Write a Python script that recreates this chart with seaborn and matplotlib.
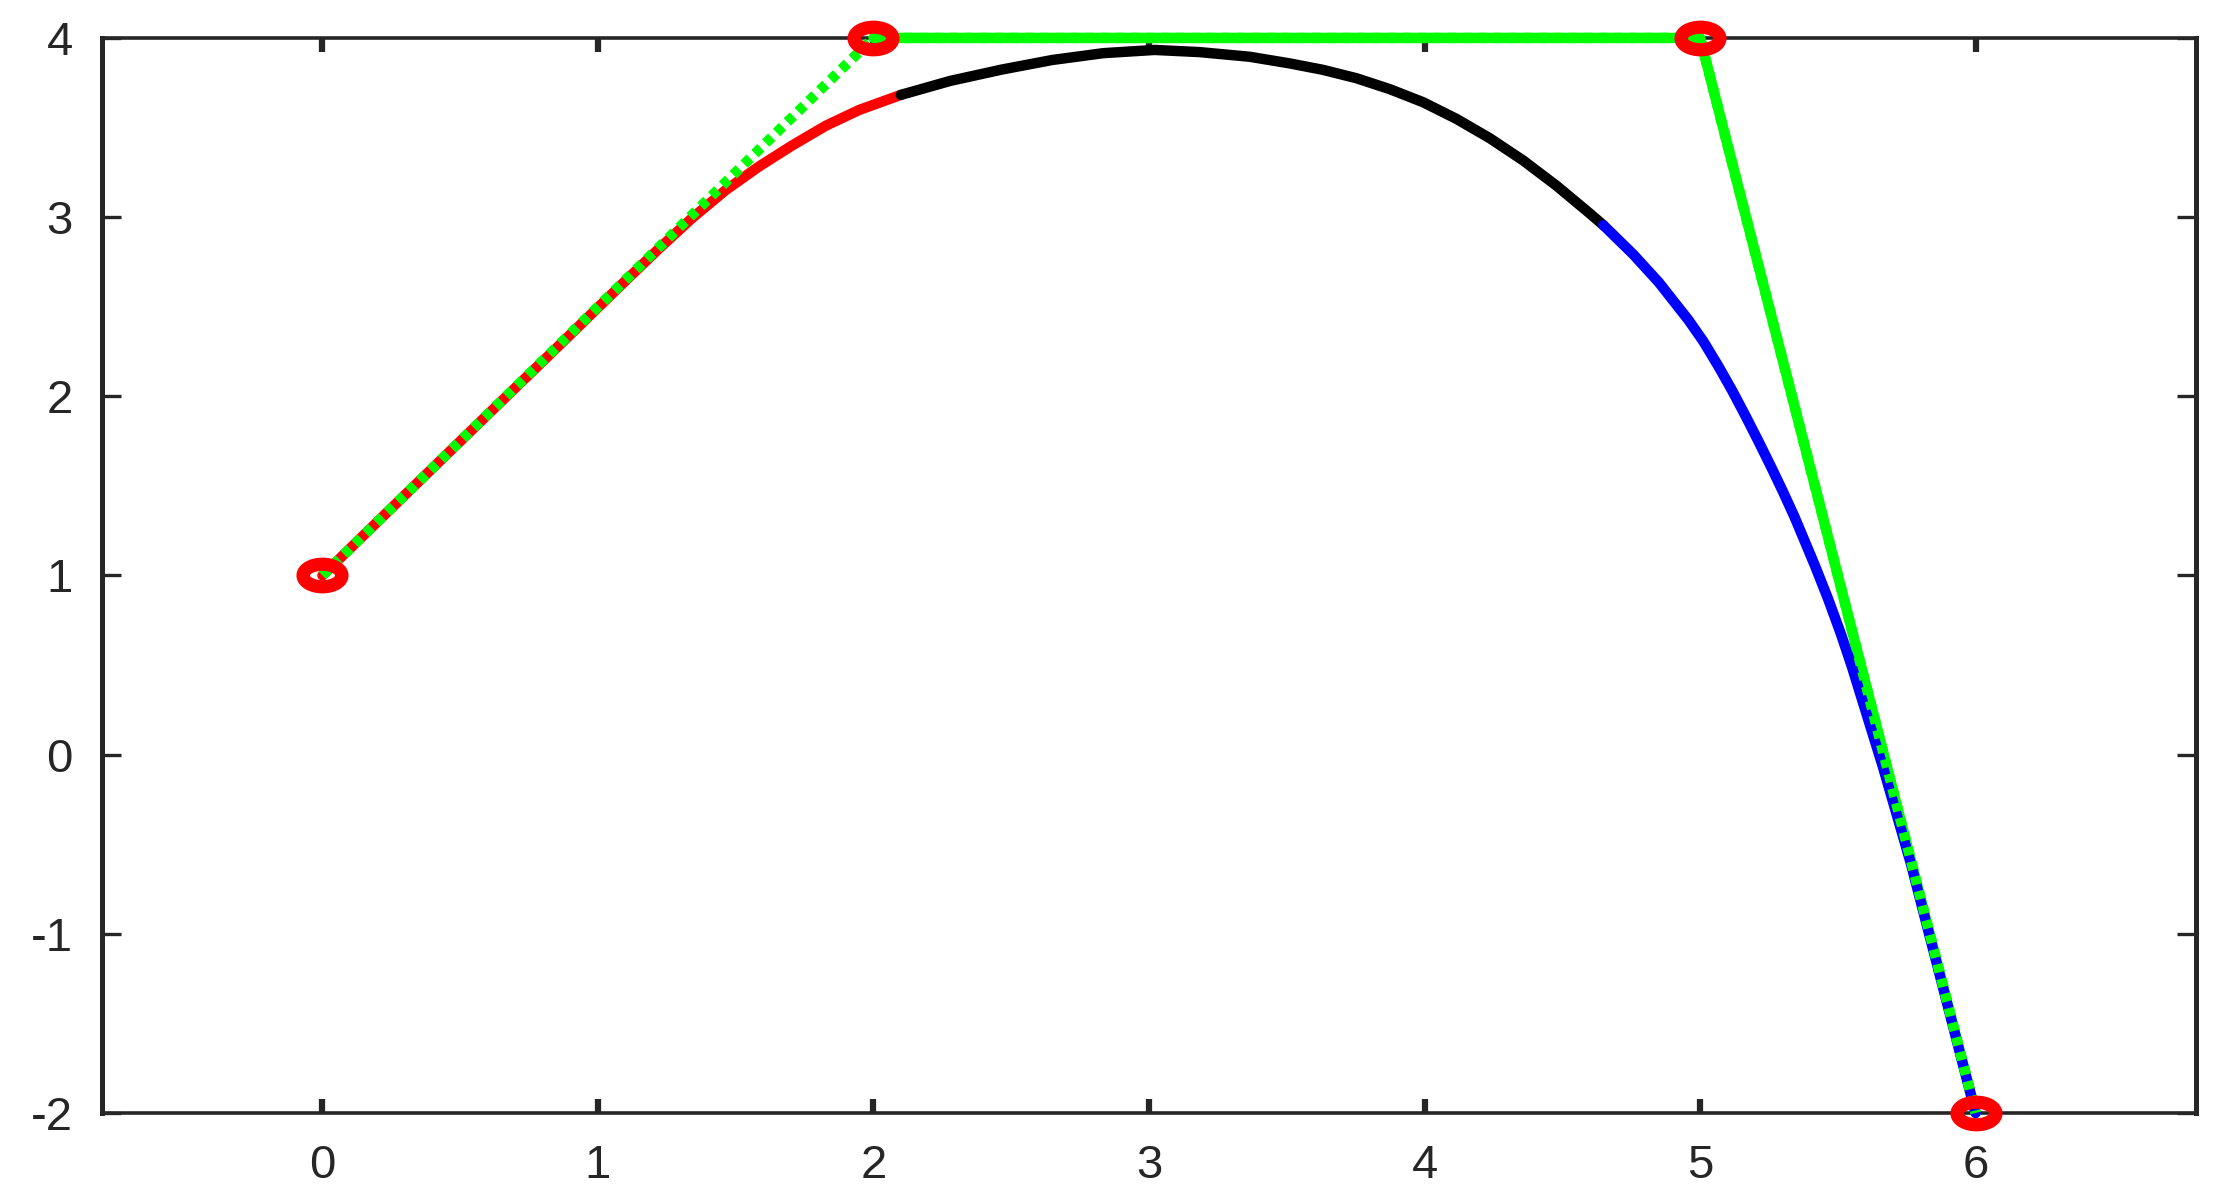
import matplotlib
matplotlib.use("Agg")
import matplotlib.pyplot as plt
from matplotlib.path import Path
from matplotlib.markers import MarkerStyle
from matplotlib.transforms import Affine2D
import seaborn as sns

# control polygon
ctrl_x = [0, 2, 5, 6]
ctrl_y = [1, 4, 4, -2]

# curve in three coloured pieces
red_x = [0.00, 0.30, 0.60, 0.87, 1.10, 1.22, 1.342, 1.463, 1.584, 1.705, 1.827, 1.948, 2.099]
red_y = [1.000, 1.450, 1.898, 2.300, 2.645, 2.822, 2.995, 3.150, 3.282, 3.400, 3.510, 3.598, 3.682]

black_x = [2.099, 2.278, 2.464, 2.649, 2.834, 3.020, 3.183, 3.365, 3.510, 3.631, 3.753,
           3.874, 3.995, 4.116, 4.237, 4.358, 4.479, 4.600, 4.649]
black_y = [3.682, 3.760, 3.823, 3.877, 3.915, 3.933, 3.921, 3.895, 3.858, 3.822, 3.775,
           3.714, 3.641, 3.548, 3.440, 3.316, 3.175, 3.020, 2.955]

blue_x = [4.649, 4.758, 4.850, 4.958, 5.012, 5.067, 5.117, 5.166, 5.212, 5.257, 5.300,
          5.342, 5.380, 5.418, 5.465, 5.510, 5.550, 5.588, 5.663, 5.766, 5.830, 5.885, 5.943, 6.000]
blue_y = [2.955, 2.791, 2.636, 2.425, 2.306, 2.166, 2.030, 1.887, 1.748, 1.608, 1.470,
          1.329, 1.190, 1.050, 0.867, 0.678, 0.495, 0.306, -0.066, -0.614, -0.995, -1.320, -1.665, -2.000]

x_ticks = [0, 1, 2, 3, 4, 5, 6]
y_ticks = [-2, -1, 0, 1, 2, 3, 4]

sns.set_theme(style="white")
plt.rcParams['font.family'] = ['Liberation Sans', 'DejaVu Sans']
plt.rcParams['axes.unicode_minus'] = False

fig = plt.figure(figsize=(22.32, 11.93), dpi=100)
ax = fig.add_axes([0.0457, 0.0671, 0.9382, 0.9011])

lw = 7.5
green = '#00ff00'

# solid legs of the polygon (under the curve)
sns.lineplot(x=ctrl_x[1:], y=ctrl_y[1:], sort=False, estimator=None, color=green,
             linewidth=lw, ax=ax, zorder=3, clip_on=False)

# the curve
for xs, ys, c in [(red_x, red_y, '#ff0000'), (black_x, black_y, '#000000'), (blue_x, blue_y, '#0000ff')]:
    sns.lineplot(x=xs, y=ys, sort=False, estimator=None, color=c,
                 linewidth=lw, ax=ax, zorder=4, clip_on=False)

# dotted polygon on top
sns.lineplot(x=ctrl_x, y=ctrl_y, sort=False, estimator=None, color=green,
             linewidth=lw, linestyle=(0, (0.8, 0.65)), ax=ax, zorder=5, clip_on=False)

# red rings at the control points (squashed, like the picture)
ring = MarkerStyle(Path.unit_circle().transformed(Affine2D().scale(1.0, 0.58)))
ax.plot(ctrl_x, ctrl_y, linestyle='none', marker=ring, markersize=28,
        markerfacecolor='none', markeredgecolor='red', markeredgewidth=9.5,
        zorder=6, clip_on=False)

ax.set_xlim(-0.8, 6.8)
ax.set_ylim(-2, 4)
ax.set_xticks(x_ticks)
ax.set_yticks(y_ticks)
ax.set_xlabel('')
ax.set_ylabel('')

for side in ['top', 'bottom']:
    ax.spines[side].set_linewidth(2.6)
for side in ['left', 'right']:
    ax.spines[side].set_linewidth(3.6)
for s in ax.spines.values():
    s.set_color('#262626')

ax.tick_params(axis='x', direction='in', top=True, bottom=True, length=10, width=4.5,
               pad=22, labelsize=34, colors='#262626')
ax.tick_params(axis='y', direction='in', left=True, right=True, length=14, width=2.4,
               pad=21, labelsize=34, colors='#262626')

fig.savefig('out.png', dpi=100)
